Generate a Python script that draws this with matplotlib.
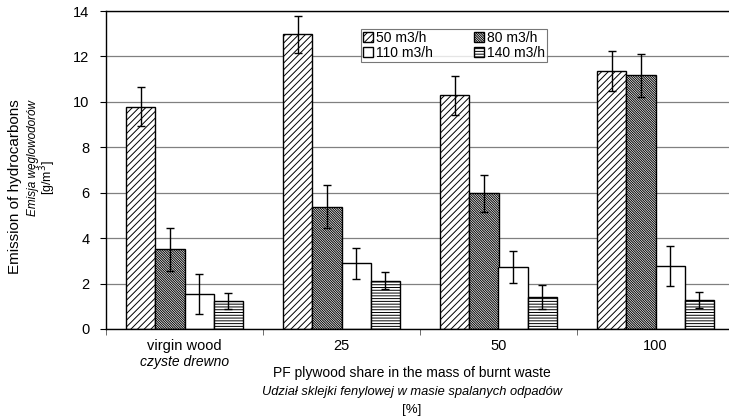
import matplotlib
matplotlib.use("Agg")
import matplotlib.pyplot as plt
import numpy as np

plt.rcParams['font.family'] = ['Liberation Sans', 'DejaVu Sans']
plt.rcParams['hatch.linewidth'] = 0.7

groups = ["virgin wood", "25", "50", "100"]
groups_pl = ["czyste drewno", "", "", ""]
series = ["50 m3/h", "80 m3/h", "110 m3/h", "140 m3/h"]

flow_50 = [9.79, 12.98, 10.29, 11.35]
flow_80 = [3.51, 5.39, 5.97, 11.17]
flow_110 = [1.54, 2.89, 2.74, 2.77]
flow_140 = [1.22, 2.13, 1.39, 1.28]

err_50 = [0.86, 0.82, 0.85, 0.89]
err_80 = [0.95, 0.96, 0.80, 0.95]
err_110 = [0.88, 0.69, 0.71, 0.88]
err_140 = [0.35, 0.38, 0.53, 0.36]

values = [flow_50, flow_80, flow_110, flow_140]
errors = [err_50, err_80, err_110, err_140]
hatches = ["/////", "\\" * 14, "", "------"]

fig = plt.figure(figsize=(7.29, 4.2), dpi=100)
ax = fig.add_axes([106 / 729, 91 / 420, 628 / 729, 318 / 420])

x = np.arange(len(groups))
w = 0.185
handles = []
for i in range(4):
    b = ax.bar(x + (i - 1.5) * w, values[i], w, color="white", edgecolor="black",
               linewidth=1.0, hatch=hatches[i], label=series[i], zorder=2)
    handles.append(b)
    ax.errorbar(x + (i - 1.5) * w, values[i], yerr=errors[i], fmt="none",
                ecolor="black", elinewidth=1.0, capsize=3, capthick=1.0, zorder=3)

ax.set_xlim(-0.5, 3.5)
ax.set_ylim(0, 14)
ax.set_yticks(range(0, 15, 2))
ax.yaxis.grid(True, color="#808080", linewidth=0.9)
ax.set_axisbelow(True)
ax.tick_params(axis="y", direction="out", length=4, pad=8, labelsize=10.5, colors="black")

ax.set_xticks(x)
ax.set_xticklabels(groups, fontsize=10.5)
ax.set_xticks(np.arange(-0.5, 4.0, 1), minor=True)
ax.tick_params(axis="x", which="major", length=0, pad=7)
ax.tick_params(axis="x", which="minor", length=4, direction="out", color="#555555")
for xi, lab in zip(x, groups_pl):
    if lab:
        ax.text(xi, -0.105, lab, transform=ax.get_xaxis_transform(), ha="center",
                va="center", fontsize=10, style="italic")

for s in ax.spines.values():
    s.set_linewidth(1.0)

order = [0, 2, 1, 3]
leg = ax.legend([handles[k] for k in order], [series[k] for k in order], ncol=2,
                loc="upper left", bbox_to_anchor=((361 - 106) / 628, (329 - 29) / 318),
                fontsize=10, frameon=True, fancybox=False, edgecolor="#555555",
                handlelength=0.7, handleheight=0.7, handletextpad=0.2, columnspacing=3.0,
                labelspacing=0.05, borderpad=0.15, borderaxespad=0)
leg.get_frame().set_linewidth(0.8)

fig.text(412 / 729, 1 - 373 / 420, "PF plywood share in the mass of burnt waste",
         ha="center", va="center", fontsize=10)
fig.text(412 / 729, 1 - 392 / 420, "Udział sklejki fenylowej w masie spalanych odpadów",
         ha="center", va="center", fontsize=9.3, style="italic")
fig.text(412 / 729, 1 - 410 / 420, "[%]", ha="center", va="center", fontsize=9.5)

fig.text(15 / 729, 1 - 187 / 420, "Emission of hydrocarbons", rotation=90,
         ha="center", va="center", fontsize=11)
fig.text(33 / 729, 1 - 158 / 420, "Emisja węglowodorów", rotation=90,
         ha="center", va="center", fontsize=8.5, style="italic")
fig.text(48 / 729, 1 - 178 / 420, "[g/m$^3$]", rotation=90,
         ha="center", va="center", fontsize=9)

fig.savefig("out.png", dpi=100)
